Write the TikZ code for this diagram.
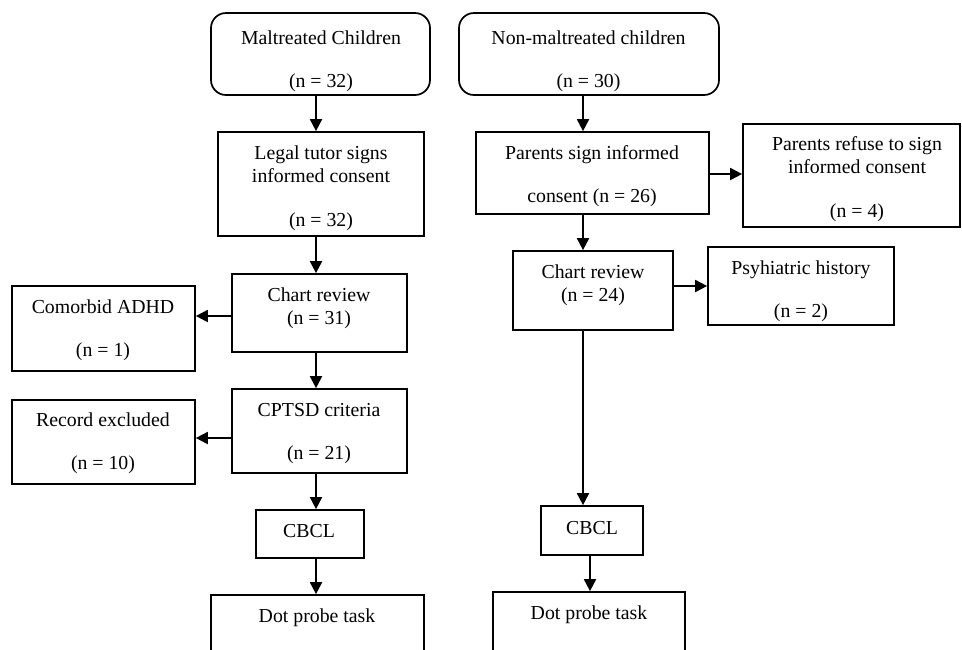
\documentclass[tikz,border=0pt]{standalone}
\usepackage{fontspec}
\setmainfont{Liberation Serif}
\usetikzlibrary{arrows.meta}
\begin{document}
\begin{tikzpicture}[x=1pt,y=-1pt,
  box/.style={draw, line width=1.7pt, inner sep=0pt},
  rbox/.style={box, rounded corners=15pt},
  txt/.style={anchor=base, inner sep=0pt, font=\fontsize{19.8}{23}\selectfont},
  arr/.style={-{Triangle[length=12pt,width=12pt]}, line width=1.8pt}]
\useasboundingbox (0,0) rectangle (962,649);
\clip (0,0) rectangle (962,649);
% ---------- left column boxes
\node[rbox, minimum width=219pt, minimum height=82pt] (m1) at (320.5,54) {};
\node[box, minimum width=206pt, minimum height=104pt] (m2) at (321,184) {};
\node[box, minimum width=175pt, minimum height=78pt] (m3) at (319.5,313) {};
\node[box, minimum width=183pt, minimum height=85pt] (c1) at (103.5,328.5) {};
\node[box, minimum width=175pt, minimum height=84pt] (m4) at (319.5,431) {};
\node[box, minimum width=183pt, minimum height=84pt] (c2) at (103.5,442) {};
\node[box, minimum width=108pt, minimum height=48pt] (m5) at (310,534) {};
\node[box, minimum width=213pt, minimum height=105pt] (m6) at (317.5,647.5) {};
% ---------- right column boxes
\node[rbox, minimum width=260pt, minimum height=82pt] (n1) at (589,54) {};
\node[box, minimum width=233pt, minimum height=82pt] (n2) at (592.5,173) {};
\node[box, minimum width=217pt, minimum height=103pt] (r1) at (851.5,175.5) {};
\node[box, minimum width=160pt, minimum height=79pt] (n3) at (593,290.5) {};
\node[box, minimum width=186pt, minimum height=78pt] (r2) at (801,286) {};
\node[box, minimum width=102pt, minimum height=49pt] (n4) at (592,530.5) {};
\node[box, minimum width=192pt, minimum height=108pt] (n5) at (589,646) {};
% ---------- texts left
\node[txt] (t1a) at (321,44) {Maltreated Children};
\node[txt] (t1b) at (321,87) {(n = 32)};
\node[txt] (t2a) at (321,159) {Legal tutor signs};
\node[txt] (t2b) at (321,182) {informed consent};
\node[txt] (t2c) at (321,226) {(n = 32)};
\node[txt] (t3a) at (319,301) {Chart review};
\node[txt] (t3b) at (319,324) {(n = 31)};
\node[txt] (t4a) at (103,313) {Comorbid ADHD};
\node[txt] (t4b) at (103,356) {(n = 1)};
\node[txt] (t5a) at (319,416) {CPTSD criteria};
\node[txt] (t5b) at (319,459) {(n = 21)};
\node[txt] (t6a) at (103,426) {Record excluded};
\node[txt] (t6b) at (103,469) {(n = 10)};
\node[txt] (t7) at (309,537) {CBCL};
\node[txt] (t8) at (317,622) {Dot probe task};
% ---------- texts right
\node[txt] (u1a) at (588.5,44) {Non-maltreated children};
\node[txt] (u1b) at (588.5,87) {(n = 30)};
\node[txt] (u2a) at (592,159) {Parents sign informed};
\node[txt] (u2b) at (592,202) {consent (n = 26)};
\node[txt] (u3a) at (857,150) {Parents refuse to sign};
\node[txt] (u3b) at (857,173) {informed consent};
\node[txt] (u3c) at (857,217) {(n = 4)};
\node[txt] (u4a) at (593,278) {Chart review};
\node[txt] (u4b) at (593,301) {(n = 24)};
\node[txt] (u5a) at (801,274) {Psyhiatric history};
\node[txt] (u5b) at (801,317) {(n = 2)};
\node[txt] (u6) at (592,534) {CBCL};
\node[txt] (u7) at (589,619) {Dot probe task};
% ---------- connector guides
\coordinate (lx) at (316,0);
\coordinate (rx) at (583,0);
\coordinate (rx2) at (590,0);
% ---------- left arrows
\draw[arr] (m1.south -| lx) -- (m2.north -| lx);
\draw[arr] (m2.south -| lx) -- (m3.north -| lx);
\draw[arr] (m3.south -| lx) -- (m4.north -| lx);
\draw[arr] (m4.south -| lx) -- (m5.north -| lx);
\draw[arr] (m5.south -| lx) -- (m6.north -| lx);
\draw[arr] ([yshift=-3pt]m3.west) -- ([yshift=-3pt]m3.west -| c1.east);
\draw[arr] ([yshift=-7pt]m4.west) -- ([yshift=-7pt]m4.west -| c2.east);
% ---------- right arrows
\draw[arr] (n1.south -| rx) -- (n2.north -| rx);
\draw[arr] (n2.south -| rx) -- (n3.north -| rx);
\draw[arr] (n3.south -| rx) -- (n4.north -| rx);
\draw[arr] (n4.south -| rx2) -- (n5.north -| rx2);
\draw[arr] ([yshift=-1pt]n2.east) -- ([yshift=-1pt]n2.east -| r1.west);
\draw[arr] (r2.west -| n3.east) -- (r2.west);
\end{tikzpicture}
\end{document}
